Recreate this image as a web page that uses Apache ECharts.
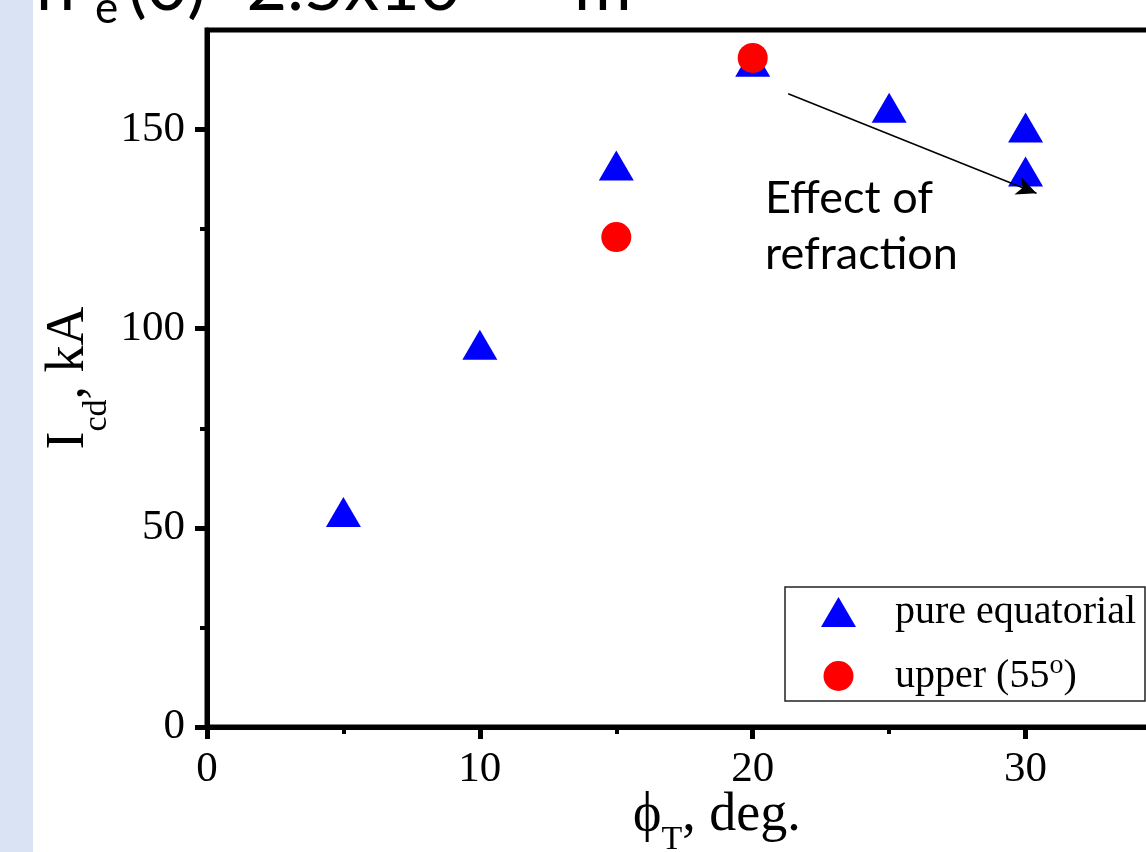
<!DOCTYPE html>
<html>
<head>
<meta charset="utf-8">
<script src="https://cdn.jsdelivr.net/npm/echarts@6/dist/echarts.min.js"></script>
<style>
  html, body { margin: 0; padding: 0; background: #ffffff; }
  #chart { width: 1146px; height: 852px; }
</style>
</head>
<body>
<div id="chart"></div>
<script>
// Current drive vs toroidal launch angle
const pureAngle   = [5, 10, 15, 20, 25, 30, 30];
const pureCurrent = [54, 96, 141, 167, 155.5, 150.5, 139.5];
const upperAngle   = [15, 20];
const upperCurrent = [123, 168];

const xMajorTicks = [0, 10, 20, 30];
const xMinorTicks = [5, 15, 25];
const yMajorTicks = [0, 50, 100, 150];
const yMinorTicks = [25, 75, 125];

// annotation arrow (data coordinates)
const arrowFrom = [21.3, 159];
const arrowTo   = [30.4, 134];

const SERIF = '"Liberation Serif", "Times New Roman", serif';
const SANS  = 'Lato, "Open Sans", sans-serif';

const chart = echarts.init(document.getElementById('chart'), null, { renderer: 'canvas' });

const majorAxisLine = { show: true, onZero: false, lineStyle: { color: '#000', width: 5 } };

// legend entries: the degree sign is set as a raised small "o"
function legendLabel(name) {
  const i = name.indexOf('°');
  if (i < 0) return '{m|' + name + '}';
  return '{m|' + name.slice(0, i) + '}{sup|o}{m|' + name.slice(i + 1) + '}';
}

const option = {
  animation: false,
  backgroundColor: '#ffffff',
  grid: {
    left: 207, top: 30, width: 955, height: 697,
    outerBoundsMode: 'none',
    containLabel: false,
    show: true, borderColor: '#000', borderWidth: 5, backgroundColor: 'transparent'
  },
  xAxis: [
    {
      type: 'value', min: 0, max: 35, interval: 10, position: 'bottom',
      axisLine: majorAxisLine,
      axisTick: { show: true, length: 12, customValues: xMajorTicks, lineStyle: { color: '#000', width: 5 } },
      axisLabel: { customValues: xMajorTicks, margin: 21, color: '#000', fontFamily: SERIF, fontSize: 43 },
      splitLine: { show: false }
    },
    {
      type: 'value', min: 0, max: 35, position: 'bottom',
      axisLine: { show: false },
      axisTick: { show: true, length: 7, customValues: xMinorTicks, lineStyle: { color: '#000', width: 4 } },
      axisLabel: { show: false },
      splitLine: { show: false }
    }
  ],
  yAxis: [
    {
      type: 'value', min: 0, max: 175, interval: 50, position: 'left',
      axisLine: majorAxisLine,
      axisTick: { show: true, length: 12, customValues: yMajorTicks, lineStyle: { color: '#000', width: 5 } },
      axisLabel: { customValues: yMajorTicks, margin: 22, color: '#000', fontFamily: SERIF, fontSize: 43 },
      splitLine: { show: false }
    },
    {
      type: 'value', min: 0, max: 175, position: 'left',
      axisLine: { show: false },
      axisTick: { show: true, length: 7, customValues: yMinorTicks, lineStyle: { color: '#000', width: 4 } },
      axisLabel: { show: false },
      splitLine: { show: false }
    }
  ],
  legend: {
    orient: 'vertical',
    left: 785, top: 587,
    padding: [5, 9, 5, 36],
    itemWidth: 35, itemHeight: 30, itemGap: 20,
    borderColor: '#222', borderWidth: 1.5, backgroundColor: '#ffffff',
    selectedMode: false,
    formatter: legendLabel,
    textStyle: {
      fontFamily: SERIF, fontSize: 40, color: '#000', lineHeight: 40,
      padding: [0, 0, 0, 34],
      rich: {
        m: { fontFamily: SERIF, fontSize: 40, lineHeight: 40, verticalAlign: 'bottom', color: '#000' },
        sup: { fontFamily: SERIF, fontSize: 28, lineHeight: 28, verticalAlign: 'bottom', padding: [0, 0, 16, 0], color: '#000' }
      }
    },
    data: ['pure equatorial', 'upper (55°)']
  },
  series: [
    {
      name: 'pure equatorial',
      type: 'scatter',
      symbol: 'triangle',
      symbolSize: [35, 30],
      itemStyle: { color: '#0000ff', opacity: 1 },
      data: pureAngle.map((x, i) => [x, pureCurrent[i]]),
      markLine: {
        silent: true,
        symbol: ['none', 'arrow'],
        symbolSize: [14, 20],
        label: { show: false },
        lineStyle: { color: '#000', width: 1.5, type: 'solid' },
        emphasis: { disabled: true },
        data: [[{ coord: arrowFrom }, { coord: arrowTo }]]
      },
      z: 2
    },
    {
      name: 'upper (55°)',
      type: 'scatter',
      symbol: 'circle',
      symbolSize: 30,
      itemStyle: { color: '#ff0000', opacity: 1 },
      data: upperAngle.map((x, i) => [x, upperCurrent[i]]),
      z: 3
    }
  ],
  graphic: [
    // side band
    { type: 'rect', z: -10, shape: { x: 0, y: 0, width: 33, height: 852 }, style: { fill: '#dae3f3' } },
    // heading (runs off the top edge)
    { type: 'text', x: 36, y: -13, style: { text: 'n', font: '70px ' + SANS, fill: '#000', verticalAlign: 'middle' } },
    { type: 'text', x: 95, y: 9, style: { text: 'e', font: '44px ' + SANS, fill: '#000', verticalAlign: 'middle' } },
    { type: 'text', x: 128, y: -13, style: { text: '(0)=2.5x10', font: '70px ' + SANS, fill: '#000', verticalAlign: 'middle' } },
    { type: 'text', x: 440, y: -43, style: { text: '19', font: '42px ' + SANS, fill: '#000', verticalAlign: 'middle' } },
    { type: 'text', x: 574, y: -13, style: { text: 'm', font: '70px ' + SANS, fill: '#000', verticalAlign: 'middle' } },
    { type: 'text', x: 636, y: -43, style: { text: '-3', font: '42px ' + SANS, fill: '#000', verticalAlign: 'middle' } },
    // y axis title
    {
      type: 'text', x: 87, y: 378, rotation: Math.PI / 2,
      style: {
        text: '{m|I}{s|cd}{m|, kA}',
        align: 'center', verticalAlign: 'middle', fill: '#000',
        rich: {
          m: { fontFamily: SERIF, fontSize: 54, lineHeight: 54, verticalAlign: 'bottom', padding: [0, 0, 18, 0], fill: '#000' },
          s: { fontFamily: SERIF, fontSize: 34, lineHeight: 34, verticalAlign: 'bottom', fill: '#000' }
        }
      }
    },
    // x axis title
    {
      type: 'text', x: 633, y: 857,
      style: {
        text: '{m|ϕ}{s|T}{m|, deg.}',
        align: 'left', verticalAlign: 'bottom', fill: '#000',
        rich: {
          m: { fontFamily: SERIF, fontSize: 54, lineHeight: 54, verticalAlign: 'bottom', padding: [0, 0, 14, 0], fill: '#000' },
          s: { fontFamily: SERIF, fontSize: 34, lineHeight: 34, verticalAlign: 'bottom', fill: '#000' }
        }
      }
    },
    // annotation text
    {
      type: 'text', x: 765, y: 170,
      style: {
        text: 'Effect of\nrefraction',
        fontFamily: SANS, fontSize: 45, lineHeight: 56,
        verticalAlign: 'top', fill: '#000'
      }
    }
  ]
};

chart.setOption(option);
</script>
</body>
</html>
